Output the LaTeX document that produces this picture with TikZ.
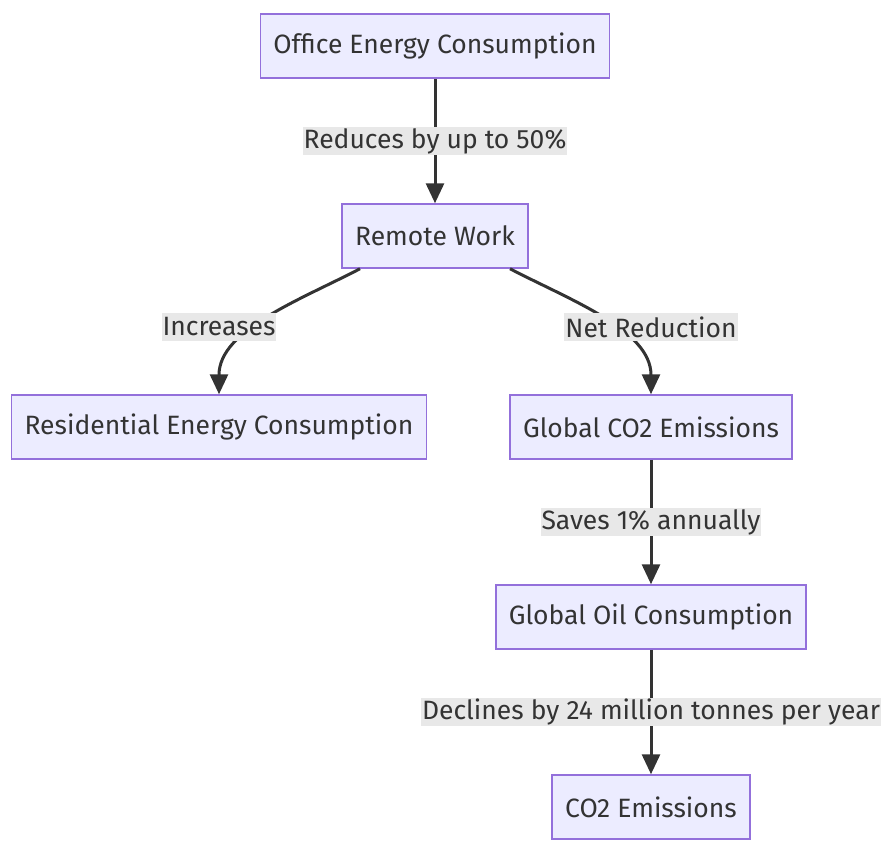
\documentclass[tikz,border=0pt]{standalone}
\usepackage{fontspec}
\setmainfont{Fira Sans}
\usetikzlibrary{arrows.meta}
\definecolor{boxfill}{HTML}{ECECFF}
\definecolor{boxline}{HTML}{9370DB}
\definecolor{ink}{HTML}{333333}
\definecolor{lblfill}{HTML}{E8E8E8}
\begin{document}
\begin{tikzpicture}[x=1pt, y=-1pt, node distance=190pt,
        box/.style={draw=boxline, line width=1.5pt, fill=boxfill, text=ink, minimum height=64pt, inner xsep=13pt, font=\fontsize{26.5}{30}\selectfont},
        lbl/.style={fill=lblfill, text=ink, minimum height=28pt, inner xsep=1pt, inner ysep=0pt, font=\fontsize{26.5}{30}\selectfont},
        link/.style={draw=ink, line width=3pt, -{Triangle[length=20pt,width=18pt]}}]
        \useasboundingbox (0,0) rectangle (896,855);

        \node[box] (office) at (435,46) {Office Energy Consumption};
        \node[box, below of=office] (remote) {Remote Work};
        \node[box] (resid) at (219,427) {Residential Energy Consumption};
        \node[box] (globco) at (651,427) {Global CO2 Emissions};
        \node[box, below of=globco] (oil) {Global Oil Consumption};
        \node[box, below of=oil] (coemis) {CO2 Emissions};

        \draw[link] (office) -- node[lbl, pos=0.5] (reduces) {Reduces by up to 50\%} (remote);
        \draw[link] ([xshift=-75pt]remote.south) .. controls (300,300) and (219,330) .. (resid.north);
        \draw[link] ([xshift=75pt]remote.south) .. controls (570,300) and (651,330) .. (globco.north);
        \draw[link] (globco) -- node[lbl, pos=0.5] (saves) {Saves 1\% annually} (oil);
        \draw[link] (oil) -- node[lbl, pos=0.5] (declines) {Declines by 24 million tonnes per year} (coemis);

        \node[lbl] (incr) at (219,327) {Increases};
        \node[lbl] (netred) at (651,327) {Net Reduction};
    \end{tikzpicture}
\end{document}
